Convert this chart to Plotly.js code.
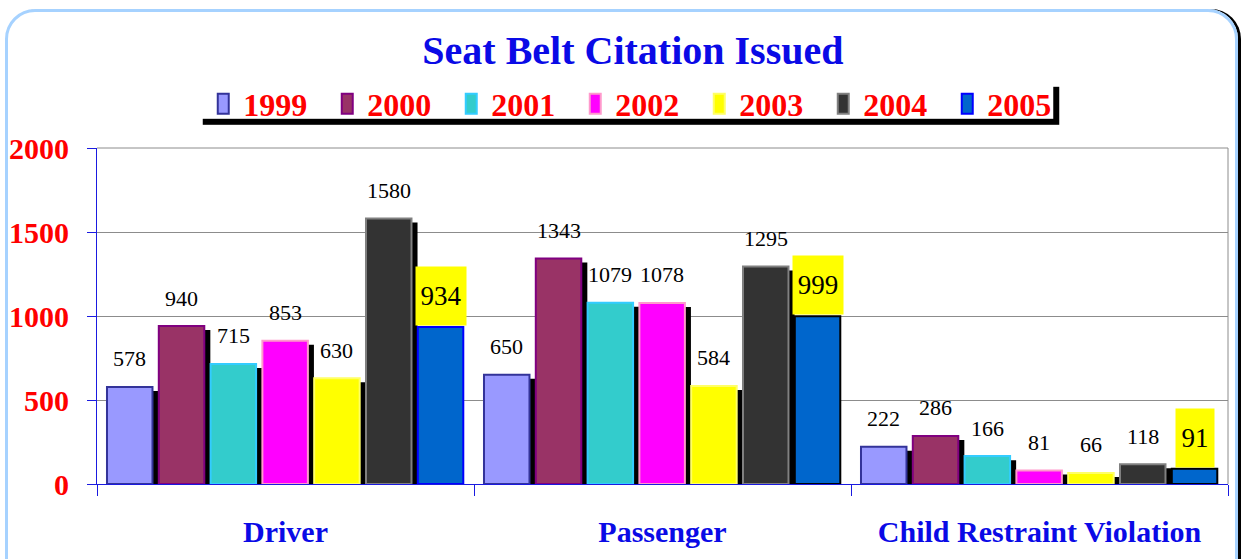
<!DOCTYPE html>
<html>
<head>
<meta charset="utf-8">
<script src="https://cdn.plot.ly/plotly-3.0.1.min.js"></script>
<style>
html,body{margin:0;padding:0;background:#fff;width:1241px;height:559px;overflow:hidden;}
#frame{position:absolute;left:5px;top:9px;width:1227px;height:600px;border:3px solid #A6D2FF;border-radius:30px;box-shadow:3px 0 0 #000;}
#chart{position:absolute;left:0;top:0;width:1241px;height:559px;}
</style>
</head>
<body>
<div id="frame"></div>
<div id="chart"></div>
<script>
const categories = ['Driver', 'Passenger', 'Child Restraint Violation'];
const years = ['1999', '2000', '2001', '2002', '2003', '2004', '2005'];
const v1999 = [578, 650, 222];
const v2000 = [940, 1343, 286];
const v2001 = [715, 1079, 166];
const v2002 = [853, 1078, 81];
const v2003 = [630, 584, 66];
const v2004 = [1580, 1295, 118];
const v2005 = [934, 999, 91];
const series = [v1999, v2000, v2001, v2002, v2003, v2004, v2005];

const fills = ['#9999FF', '#993366', '#33CCCC', '#FF00FF', '#FFFF00', '#333333', '#0066CC'];
const lines = ['#333399', '#800080', '#33CCFF', '#FF99CC', '#FFFF66', '#808080', ['#0000FF', '#000000', '#000000']];

const start = -0.4735, pitch = 0.1374, bw = 0.1207, shadowDx = 0.016, shadowDy = -24;
const serif = 'Liberation Serif, Times New Roman, serif';

const traces = [];
// shadows (not for the last series, as in the original)
series.forEach((vals, i) => {
  if (i === series.length - 1) return;
  traces.push({
    type: 'bar', x: categories, y: vals, base: shadowDy,
    offset: start + i * pitch + shadowDx, width: bw,
    marker: {color: '#000000', line: {width: 0}},
    showlegend: false, hoverinfo: 'skip'
  });
});
// bars
series.forEach((vals, i) => {
  traces.push({
    type: 'bar', x: categories, y: vals, name: years[i],
    offset: start + i * pitch, width: bw,
    marker: {color: fills[i], line: {color: lines[i], width: 2}}
  });
});

const annotations = [];
series.forEach((vals, i) => {
  vals.forEach((v, j) => {
    const cx = j + start + i * pitch + bw / 2;
    if (i === 6) {
      annotations.push({
        x: cx, y: v, xref: 'x', yref: 'y', text: String(v), showarrow: false,
        yanchor: 'bottom', yshift: 1, bgcolor: '#FFFF00',
        width: v >= 100 ? 48 : 36, height: 56,
        font: {family: serif, size: 27, color: '#000'}
      });
    } else {
      annotations.push({
        x: cx, y: v, xref: 'x', yref: 'y', text: String(v), showarrow: false,
        yanchor: 'middle', yshift: 28,
        font: {family: serif, size: 22, color: '#000'}
      });
    }
  });
});

const layout = {
  width: 1241, height: 559,
  paper_bgcolor: 'rgba(0,0,0,0)', plot_bgcolor: '#FFFFFF',
  margin: {l: 97, r: 13, t: 148, b: 75},
  barmode: 'overlay',
  title: {
    text: 'Seat Belt Citation Issued', xref: 'container', x: 0.51, yref: 'container', y: 0.91, yanchor: 'middle', xanchor: 'center',
    font: {family: serif, size: 40, weight: 'bold', color: '#0A0AE6'}
  },
  legend: {
    orientation: 'h', xref: 'container', yref: 'container', x: 0.5135, y: 1 - 104 / 559,
    xanchor: 'center', yanchor: 'middle', bgcolor: 'rgba(0,0,0,0)', borderwidth: 0,
    entrywidth: 79, entrywidthmode: 'pixels',
    font: {family: serif, size: 32, weight: 'bold', color: '#FF0000'},
    itemclick: false, traceorder: 'normal'
  },
  xaxis: {
    type: 'category', range: [-0.5, 2.5], showline: true, linecolor: '#1A1AE0', linewidth: 1,
    ticks: 'outside', tickson: 'boundaries', ticklen: 11, tickcolor: '#1A1AE0',
    showgrid: false, ticklabelstandoff: 21,
    tickfont: {family: serif, size: 30, weight: 'bold', color: '#0A0AE6'}
  },
  yaxis: {
    range: [0, 2000], dtick: 500, showline: true, linecolor: '#1A1AE0', linewidth: 1,
    ticks: 'outside', ticklen: 9, tickcolor: '#1A1AE0',
    gridcolor: '#8C8C8C', gridwidth: 1, zeroline: false, ticklabelstandoff: 12,
    tickfont: {family: serif, size: 30, weight: 'bold', color: '#FF0000'}
  },
  annotations: annotations,
  shapes: [
    {type: 'line', xref: 'paper', yref: 'paper', x0: 1, x1: 1, y0: 0, y1: 1, line: {color: '#8C8C8C', width: 1}},
    {type: 'line', xref: 'paper', yref: 'paper', x0: 0, x1: 1, y0: 1, y1: 1, line: {color: '#8C8C8C', width: 1}}
  ]
};

Plotly.newPlot('chart', traces, layout, {displayModeBar: false, staticPlot: true}).then(() => {
  const lg = document.querySelector('.legend');
  if (!lg) return;
  // taller legend swatches, as in the original
  lg.querySelectorAll('.legendpoints path').forEach(p => p.setAttribute('d', 'M5.5,10H-5.5V-10H5.5Z'));
  // legend box with drop shadow (decoration), sized from the drawn legend items
  const svgBox = document.querySelector('#chart .main-svg').getBoundingClientRect();
  const syms = lg.querySelectorAll('.legendpoints path');
  const texts = lg.querySelectorAll('.legendtext');
  if (!syms.length || !texts.length) return;
  const s0 = syms[0].getBoundingClientRect();
  const tl = texts[texts.length - 1].getBoundingClientRect();
  const tc = s0.top + s0.height / 2 - svgBox.top;
  const x0 = s0.left - svgBox.left - 21, x1 = tl.right - svgBox.left + 2;
  const y0 = tc - 23, y1 = tc + 15;
  const ns = 'http://www.w3.org/2000/svg';
  const mk = (x, y, w, h, fill) => {
    const r = document.createElementNS(ns, 'rect');
    r.setAttribute('x', x); r.setAttribute('y', y);
    r.setAttribute('width', w); r.setAttribute('height', h);
    r.setAttribute('fill', fill);
    return r;
  };
  lg.parentNode.insertBefore(mk(x0 + 6, y0 + 6, x1 - x0, y1 - y0, '#000'), lg);
  lg.parentNode.insertBefore(mk(x0, y0, x1 - x0, y1 - y0, '#FFF'), lg);
});
</script>
</body>
</html>
